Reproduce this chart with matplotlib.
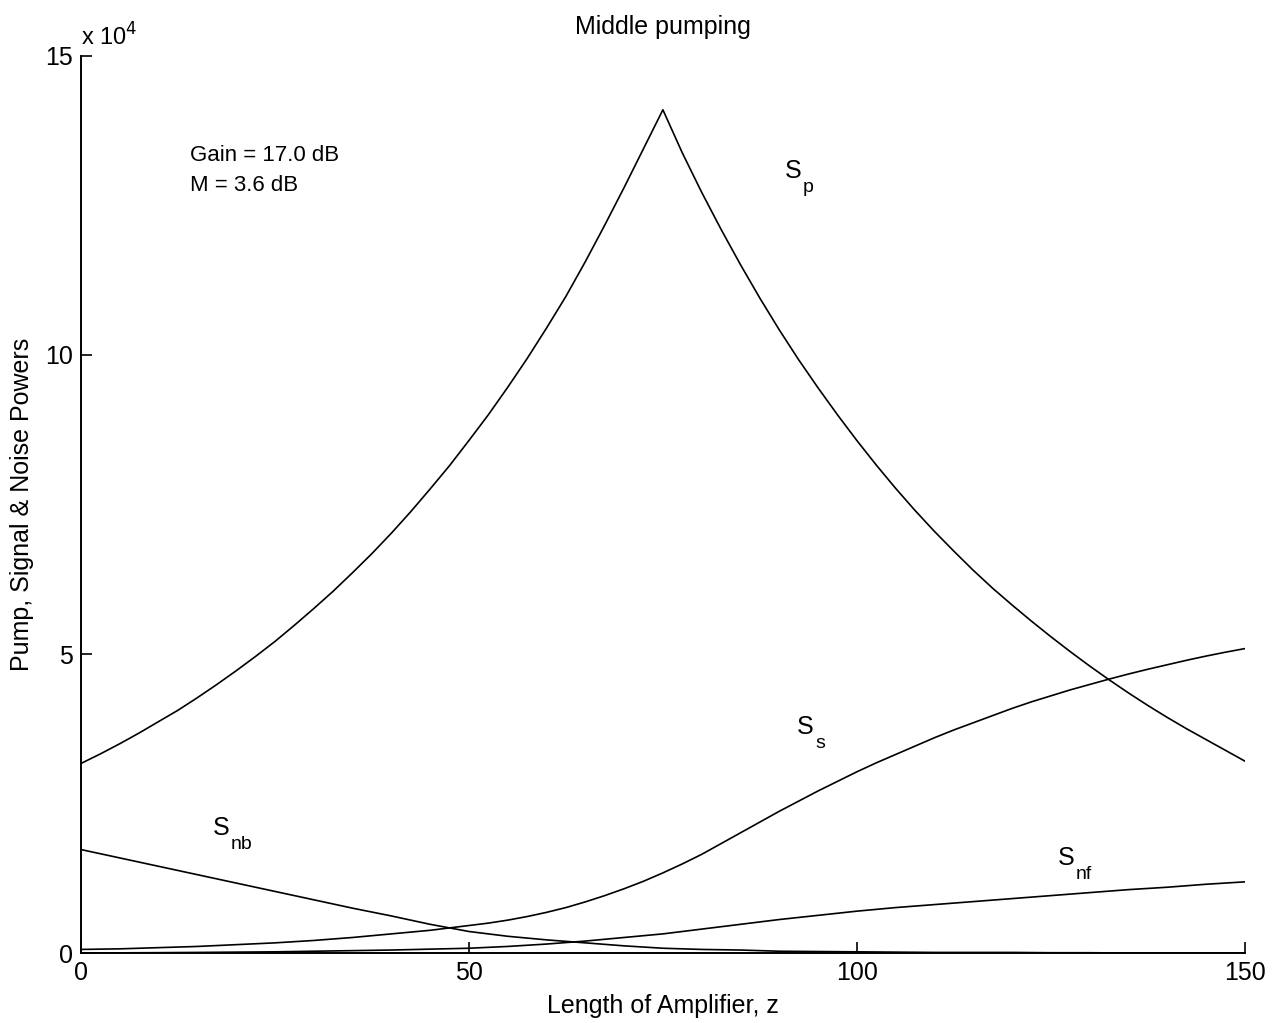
import matplotlib
matplotlib.use('agg')
import matplotlib.pyplot as plt

# position along the amplifier (pump and signal read every 2.5)
z = [0, 2.5, 5, 7.5, 10, 12.5, 15, 17.5, 20, 22.5, 25, 27.5, 30, 32.5, 35, 37.5,
     40, 42.5, 45, 47.5, 50, 52.5, 55, 57.5, 60, 62.5, 65, 67.5, 70, 72.5, 75,
     77.5, 80, 82.5, 85, 87.5, 90, 92.5, 95, 97.5, 100, 102.5, 105, 107.5, 110, 112.5,
     115, 117.5, 120, 122.5, 125, 127.5, 130, 132.5, 135, 137.5, 140, 142.5, 145, 147.5, 150]

# powers, in units of 1e4
s_p = [3.17, 3.33, 3.50, 3.68, 3.87, 4.06, 4.27, 4.49, 4.72, 4.96, 5.21, 5.48, 5.76, 6.05, 6.36, 6.68,
       7.02, 7.38, 7.76, 8.15, 8.57, 9.00, 9.46, 9.94, 10.45, 10.98, 11.56, 12.17, 12.80, 13.45, 14.10,
       13.38, 12.72, 12.10, 11.51, 10.95, 10.42, 9.92, 9.45, 9.00, 8.57, 8.16, 7.77, 7.40, 7.05, 6.72,
       6.40, 6.10, 5.82, 5.55, 5.29, 5.04, 4.80, 4.57, 4.35, 4.14, 3.94, 3.75, 3.57, 3.39, 3.21]
s_s = [0.06, 0.065, 0.07, 0.08, 0.09, 0.10, 0.11, 0.125, 0.14, 0.155, 0.17, 0.19, 0.21, 0.235, 0.26, 0.29,
       0.32, 0.35, 0.38, 0.42, 0.46, 0.50, 0.55, 0.61, 0.68, 0.76, 0.855, 0.96, 1.075, 1.20, 1.34,
       1.49, 1.65, 1.83, 2.01, 2.19, 2.37, 2.54, 2.71, 2.87, 3.03, 3.18, 3.32, 3.46, 3.60, 3.73,
       3.85, 3.97, 4.09, 4.20, 4.30, 4.40, 4.49, 4.58, 4.665, 4.745, 4.82, 4.895, 4.965, 5.03, 5.09]

# noise powers read every 5
z_n = [0, 5, 10, 15, 20, 25, 30, 35, 40, 45, 50, 55, 60, 65, 70, 75,
       80, 85, 90, 95, 100, 105, 110, 115, 120, 125, 130, 135, 140, 145, 150]
s_nb = [1.73, 1.59, 1.45, 1.31, 1.17, 1.03, 0.89, 0.75, 0.62, 0.48, 0.36, 0.28, 0.22, 0.17, 0.12, 0.08,
        0.06, 0.05, 0.03, 0.025, 0.02, 0.015, 0.01, 0.01, 0.01, 0.005, 0.005, 0.0, 0.0, 0.0, 0.0]
s_nf = [0.0, 0.003, 0.006, 0.01, 0.015, 0.02, 0.03, 0.04, 0.05, 0.065, 0.08, 0.11, 0.15, 0.20, 0.26, 0.32,
        0.40, 0.48, 0.56, 0.63, 0.70, 0.76, 0.81, 0.86, 0.91, 0.96, 1.01, 1.06, 1.10, 1.15, 1.19]

# curve names: main letter + subscript, and where the letter sits
curve_subs = ['p', 's', 'nb', 'nf']
label_pos = [(90.7, 13.08), (92.3, 3.78), (17.0, 2.09), (125.9, 1.59)]

plt.rcParams['font.family'] = ['Liberation Sans', 'DejaVu Sans']

fig = plt.figure(figsize=(12.78, 10.23), dpi=100)
ax = fig.add_axes([0.0634, 0.0684, 0.9106, 0.8769])

ax.plot(z, s_p, color='black', linewidth=1.2)
ax.plot(z, s_s, color='black', linewidth=1.2)
ax.plot(z_n, s_nb, color='black', linewidth=1.2)
ax.plot(z_n, s_nf, color='black', linewidth=1.2)

for sub, (xx, yy) in zip(curve_subs, label_pos):
    ax.text(xx, yy, 'S', fontsize=18, ha='left', va='center')
    ax.annotate(sub, xy=(xx, yy), xytext=(13, -12), textcoords='offset points',
                fontsize=14, ha='left', va='center')

ax.text(14.0, 13.34, 'Gain = 17.0 dB', fontsize=16, ha='left', va='center')
ax.text(14.0, 12.84, 'M = 3.6 dB', fontsize=16, ha='left', va='center')

ax.set_xlim(0, 150)
ax.set_ylim(0, 15)
ax.set_xticks([0, 50, 100, 150])
ax.set_yticks([0, 5, 10, 15])
ax.tick_params(direction='in', length=8, width=1.2, labelsize=18, pad=6)
ax.spines['top'].set_visible(False)
ax.spines['right'].set_visible(False)
for s in ['left', 'bottom']:
    ax.spines[s].set_linewidth(1.4)

ax.text(0, 1.006, r'x 10$^{4}$', transform=ax.transAxes, fontsize=17, ha='left', va='bottom')
ax.set_title('Middle pumping', fontsize=18, pad=16)
ax.set_xlabel('Length of Amplifier, z', fontsize=18, labelpad=6)
ax.set_ylabel('Pump, Signal & Noise Powers', fontsize=18, labelpad=8)

fig.savefig('out.png', dpi=100)
